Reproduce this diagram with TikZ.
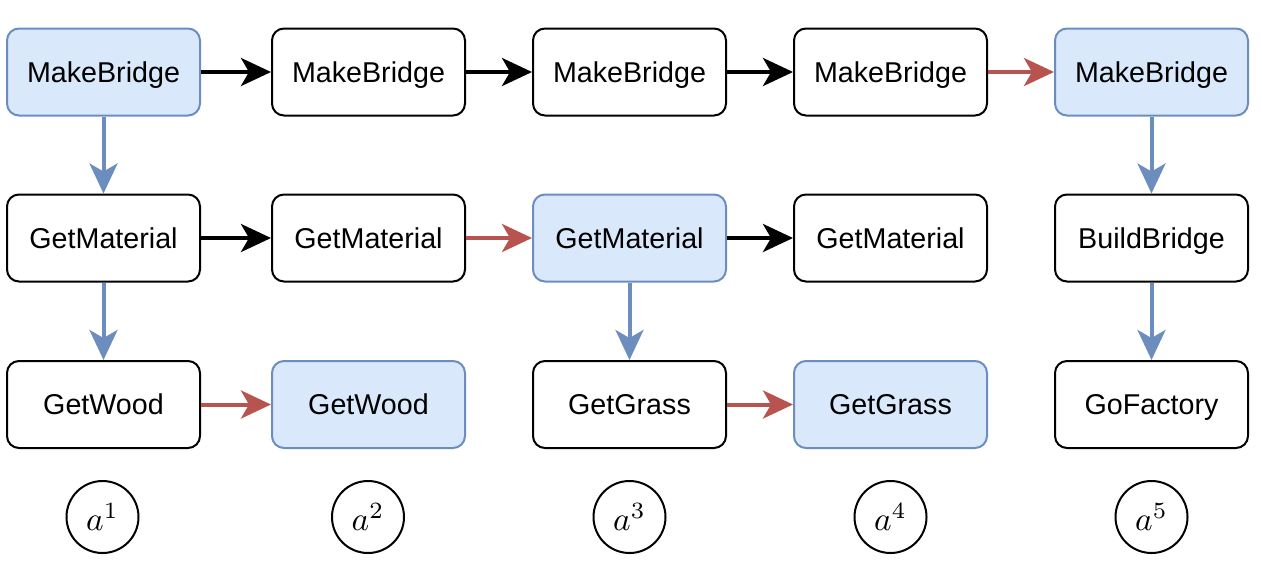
\documentclass[tikz,border=0pt]{standalone}
\usepackage{graphicx}
\usepackage{fontspec}
\setmainfont{Liberation Sans}
\usetikzlibrary{arrows.meta}
\definecolor{bfill}{HTML}{DAE8FC}
\definecolor{bline}{HTML}{6C8EBF}
\definecolor{rline}{HTML}{B85450}
\tikzset{
  box/.style={draw=black, line width=1.5pt, rounded corners=9pt, minimum width=144.75pt, minimum height=65.25pt, inner sep=0pt, font=\fontsize{21.5}{24}\selectfont, text height=16pt, text depth=1pt},
  hbox/.style={box, draw=bline, fill=bfill},
  lab/.style={circle, draw=black, line width=1.5pt, minimum size=54pt, inner sep=0pt},
  arr/.style={line width=3pt, -{Stealth[length=22.5pt,width=21pt,inset=6pt]}},
  karr/.style={arr, draw=black},
  barr/.style={arr, draw=bline},
  rarr/.style={arr, draw=rline},
}
\newcommand{\alab}[1]{\scalebox{2.5}{$a^{#1}$}}
\begin{document}
\begin{tikzpicture}[x=0.75pt,y=-0.75pt]
\useasboundingbox (0,0) rectangle (1262,561);
% columns
\node[hbox] (m1) at (103.5,72) {MakeBridge};
\node[box]  (m2) at (368.5,72) {MakeBridge};
\node[box]  (m3) at (629.5,72) {MakeBridge};
\node[box]  (m4) at (890.5,72) {MakeBridge};
\node[hbox] (m5) at (1151.5,72) {MakeBridge};
\node[box]  (g1) at (103.5,238) {GetMaterial};
\node[box]  (g2) at (368.5,238) {GetMaterial};
\node[hbox] (g3) at (629.5,238) {GetMaterial};
\node[box]  (g4) at (890.5,238) {GetMaterial};
\node[box]  (b5) at (1151.5,238) {BuildBridge};
\node[box]  (w1) at (103.5,404.5) {GetWood};
\node[hbox] (w2) at (368.5,404.5) {GetWood};
\node[box]  (s3) at (629.5,404.5) {GetGrass};
\node[hbox] (s4) at (890.5,404.5) {GetGrass};
\node[box]  (f5) at (1151.5,404.5) {GoFactory};
% labels
\node[lab] (a1) at (102.5,517) {\alab{1}};
\node[lab] (a2) at (368,517) {\alab{2}};
\node[lab] (a3) at (629.5,517) {\alab{3}};
\node[lab] (a4) at (890.5,517) {\alab{4}};
\node[lab] (a5) at (1151.5,517) {\alab{5}};
% horizontal
\draw[karr] (m1) -- (m2);
\draw[karr] (m2) -- (m3);
\draw[karr] (m3) -- (m4);
\draw[rarr] (m4) -- (m5);
\draw[karr] (g1) -- (g2);
\draw[rarr] (g2) -- (g3);
\draw[karr] (g3) -- (g4);
\draw[rarr] (w1) -- (w2);
\draw[rarr] (s3) -- (s4);
% vertical
\draw[barr] (m1) -- (g1);
\draw[barr] (g1) -- (w1);
\draw[barr] (g3) -- (s3);
\draw[barr] (m5) -- (b5);
\draw[barr] (b5) -- (f5);
\end{tikzpicture}
\end{document}
